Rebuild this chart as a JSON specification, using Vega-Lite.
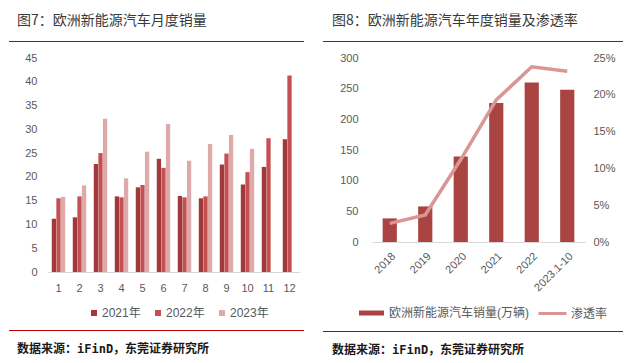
{
  "$schema": "https://vega.github.io/schema/vega-lite/v6.json",
  "padding": {"left": 9, "top": 13, "right": 0, "bottom": 0},
  "background": "white",
  "config": {
    "view": {"stroke": null},
    "axis": {"labelFont": "Liberation Sans, Noto Sans CJK SC", "labelFontSize": 11, "labelColor": "#595959", "grid": false, "ticks": false, "domain": false, "title": null},
    "legend": {"labelFont": "Liberation Sans, Noto Sans CJK SC", "labelFontSize": 12, "labelColor": "#595959", "title": null},
    "title": {"font": "Noto Sans CJK SC", "color": "#3a3a3a", "fontWeight": "normal", "anchor": "start"}
  },
  "datasets": {
    "monthly": [
      {"month": 1, "year": "2021年", "value": 11.2}, {"month": 1, "year": "2022年", "value": 15.5}, {"month": 1, "year": "2023年", "value": 15.8},
      {"month": 2, "year": "2021年", "value": 11.5}, {"month": 2, "year": "2022年", "value": 15.9}, {"month": 2, "year": "2023年", "value": 18.2},
      {"month": 3, "year": "2021年", "value": 22.7}, {"month": 3, "year": "2022年", "value": 25.0}, {"month": 3, "year": "2023年", "value": 32.2},
      {"month": 4, "year": "2021年", "value": 15.9}, {"month": 4, "year": "2022年", "value": 15.7}, {"month": 4, "year": "2023年", "value": 19.7},
      {"month": 5, "year": "2021年", "value": 17.8}, {"month": 5, "year": "2022年", "value": 18.3}, {"month": 5, "year": "2023年", "value": 25.3},
      {"month": 6, "year": "2021年", "value": 23.8}, {"month": 6, "year": "2022年", "value": 21.9}, {"month": 6, "year": "2023年", "value": 31.1},
      {"month": 7, "year": "2021年", "value": 16.0}, {"month": 7, "year": "2022年", "value": 15.7}, {"month": 7, "year": "2023年", "value": 23.4},
      {"month": 8, "year": "2021年", "value": 15.5}, {"month": 8, "year": "2022年", "value": 15.9}, {"month": 8, "year": "2023年", "value": 26.9},
      {"month": 9, "year": "2021年", "value": 22.6}, {"month": 9, "year": "2022年", "value": 24.9}, {"month": 9, "year": "2023年", "value": 28.8},
      {"month": 10, "year": "2021年", "value": 18.4}, {"month": 10, "year": "2022年", "value": 21.0}, {"month": 10, "year": "2023年", "value": 25.9},
      {"month": 11, "year": "2021年", "value": 22.1}, {"month": 11, "year": "2022年", "value": 28.1},
      {"month": 12, "year": "2021年", "value": 27.9}, {"month": 12, "year": "2022年", "value": 41.3}
    ],
    "annual": [
      {"period": "2018", "sales": 38.5, "rate": 0.0253},
      {"period": "2019", "sales": 58, "rate": 0.0367},
      {"period": "2020", "sales": 139.6, "rate": 0.112},
      {"period": "2021", "sales": 226.6, "rate": 0.193},
      {"period": "2022", "sales": 260.2, "rate": 0.238},
      {"period": "2023.1-10", "sales": 248.3, "rate": 0.232}
    ],
    "blank": [{"k": 1}]
  },
  "resolve": {"scale": {"color": "independent", "fill": "independent", "stroke": "independent"}, "legend": {"color": "independent", "fill": "independent", "stroke": "independent"}},
  "hconcat": [
    {
      "resolve": {"scale": {"color": "independent", "fill": "independent", "stroke": "independent"}, "legend": {"color": "independent", "fill": "independent", "stroke": "independent"}},
      "vconcat": [
        {
          "width": 295, "height": 1,
          "view": {"fill": "#C00000", "stroke": null},
          "title": {"text": "图7：欧洲新能源汽车月度销量", "fontSize": 14, "dx": 8, "offset": 8},
          "data": {"name": "blank"},
          "mark": {"type": "text"},
          "encoding": {"text": {"value": ""}}
        },
        {
          "width": 291, "height": 214,
          "data": {"name": "monthly"},
          "mark": {"type": "bar"},
          "encoding": {
            "x": {"field": "month", "type": "ordinal", "scale": {"range": [39, 291], "paddingInner": 0.36, "paddingOuter": 0.18},
                  "axis": {"labelAngle": 0, "domain": true, "domainColor": "#D9D9D9", "labelPadding": 10}},
            "xOffset": {"field": "year", "scale": {"paddingInner": 0.06}},
            "y": {"field": "value", "type": "quantitative", "scale": {"domain": [0, 45]},
                  "axis": {"values": [0, 5, 10, 15, 20, 25, 30, 35, 40, 45], "offset": -39, "labelPadding": 11, "minExtent": 0}},
            "color": {"field": "year", "type": "nominal",
                      "scale": {"domain": ["2021年", "2022年", "2023年"], "range": ["#A0393A", "#C55052", "#DDA9A9"]},
                      "legend": {"orient": "none", "legendX": 79, "legendY": 249, "direction": "horizontal", "symbolType": "square", "symbolSize": 36, "symbolStrokeWidth": 0, "labelOffset": 2, "columnPadding": 11}}
          }
        },
        {
          "width": 295, "height": 1,
          "view": {"fill": "#C00000", "stroke": null},
          "title": {"text": "数据来源：iFinD，东莞证券研究所", "orient": "bottom", "font": "DejaVu Sans Mono, Noto Sans CJK SC", "fontSize": 12, "fontWeight": "bold", "color": "#1a1a1a", "dx": 8, "offset": 8},
          "data": {"name": "blank"},
          "mark": {"type": "text"},
          "encoding": {"text": {"value": ""}}
        }
      ],
      "spacing": 5
    },
    {
      "resolve": {"scale": {"color": "independent", "fill": "independent", "stroke": "independent"}, "legend": {"color": "independent", "fill": "independent", "stroke": "independent"}},
      "vconcat": [
        {
          "width": 300, "height": 1,
          "view": {"fill": "#C00000", "stroke": null},
          "title": {"text": "图8：欧洲新能源汽车年度销量及渗透率", "fontSize": 14, "dx": 9, "offset": 8},
          "data": {"name": "blank"},
          "mark": {"type": "text"},
          "encoding": {"text": {"value": ""}}
        },
        {
          "width": 262, "height": 184,
          "data": {"name": "annual"},
          "encoding": {
            "x": {"field": "period", "type": "nominal", "sort": null, "scale": {"range": [49, 262], "paddingInner": 0.6, "paddingOuter": 0.3},
                  "axis": {"labelAngle": -45, "domain": true, "domainColor": "#D9D9D9", "labelPadding": 8}}
          },
          "layer": [
            {
              "mark": {"type": "bar"},
              "encoding": {
                "y": {"field": "sales", "type": "quantitative", "scale": {"domain": [0, 300]},
                      "axis": {"orient": "left", "values": [0, 50, 100, 150, 200, 250, 300], "offset": -49, "labelPadding": 14, "minExtent": 0}},
                "fill": {"datum": "欧洲新能源汽车销量(万辆)", "type": "nominal", "scale": {"range": ["#A94442"]},
                         "legend": {"orient": "none", "legendX": 42.5, "legendY": 249, "symbolType": "M-2.5,-0.5H2.5V0.5H-2.5Z", "symbolSize": 100, "symbolStrokeWidth": 0, "labelOffset": 11.5}}
              }
            },
            {
              "mark": {"type": "line", "strokeWidth": 3.5},
              "encoding": {
                "y": {"field": "rate", "type": "quantitative", "scale": {"domain": [0, 0.25]},
                      "axis": {"orient": "right", "values": [0, 0.05, 0.1, 0.15, 0.2, 0.25], "format": ".0%", "labelPadding": 8}},
                "stroke": {"datum": "渗透率", "type": "nominal", "scale": {"range": ["#D99694"]},
                           "legend": {"orient": "none", "legendX": 223, "legendY": 249, "symbolType": "M-2.8,0H2.8", "symbolSize": 100, "symbolStrokeWidth": 3, "labelOffset": 12}}
              }
            }
          ],
          "resolve": {"scale": {"y": "independent"}}
        },
        {
          "width": 300, "height": 1,
          "view": {"fill": "#C00000", "stroke": null},
          "title": {"text": "数据来源：iFinD，东莞证券研究所", "orient": "bottom", "font": "DejaVu Sans Mono, Noto Sans CJK SC", "fontSize": 12, "fontWeight": "bold", "color": "#1a1a1a", "dx": 9, "offset": 8},
          "data": {"name": "blank"},
          "mark": {"type": "text"},
          "encoding": {"text": {"value": ""}}
        }
      ],
      "spacing": 5
    }
  ],
  "spacing": 19
}
